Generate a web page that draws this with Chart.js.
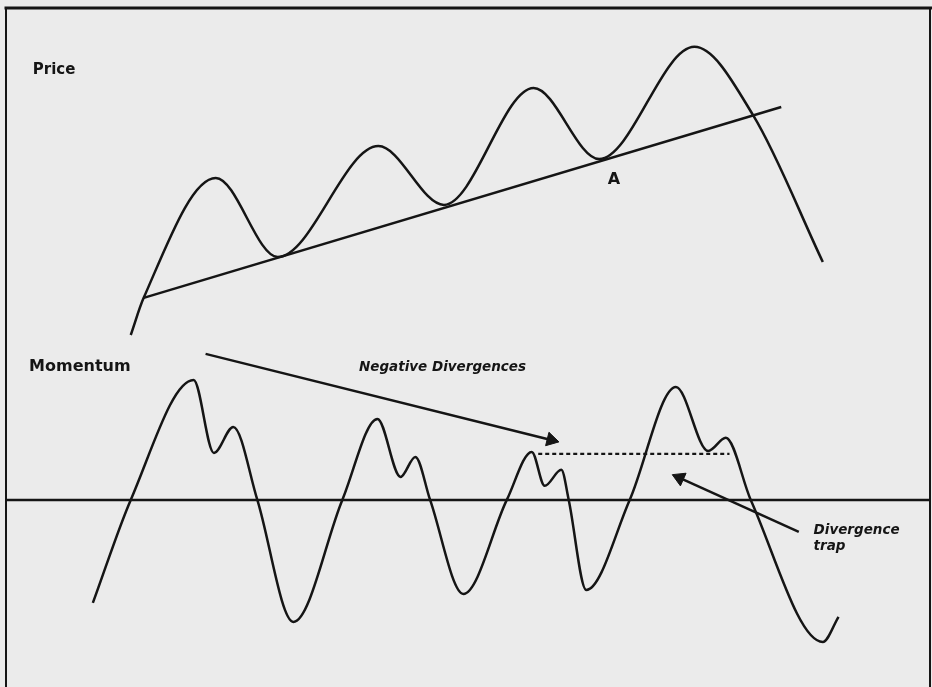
<!DOCTYPE html>
<html>
<head>
<meta charset="utf-8">
<script src="https://cdn.jsdelivr.net/npm/chart.js@4/dist/chart.umd.min.js"></script>
<style>
  html, body { margin: 0; padding: 0; background: #ebebeb; }
  #wrap { width: 932px; height: 687px; position: relative; }
</style>
</head>
<body>
<div id="wrap"><canvas id="c" width="932" height="687"></canvas></div>
<script>
// ---- Data (time index 0..100, price units 0..100, momentum units around zero) ----
const priceX = [13.5, 14.9, 22.7, 29.4, 40.3, 47.4, 57.1, 64.2, 74.5, 80.9, 88.4];
const priceY = [1.5, 12.7, 48.8, 25.0, 58.4, 40.7, 75.9, 54.5, 88.3, 67.5, 23.5];

const trendX = [14.9, 83.9];
const trendY = [12.7, 70.2];

const momX = [9.4, 13.5, 20.3, 22.5, 24.6, 27.2, 31.1, 36.4, 40.2, 42.7, 44.3, 45.9, 49.5,
              54.2, 56.9, 58.3, 60.1, 60.9, 62.8, 67.5, 72.5, 76.0, 77.9, 80.6, 88.4, 90.1];
const momY = [-64.4, 0, 75.0, 29.4, 45.6, 0, -76.3, 0, 50.6, 14.4, 26.9, 0, -58.8,
              0, 30.0, 8.8, 18.8, 0, -56.3, 0, 70.6, 30.6, 38.8, 0, -88.8, -73.1];

const zeroX = [0, 100];
const zeroY = [0, 0];

const divLineX = [21.6, 59.0];
const divLineY = [91.3, 37.5];

const dashX = [57.6, 78.3];
const dashY = [28.75, 28.75];

const trapX = [85.8, 72.9];
const trapY = [-20, 13.75];

const labelText = ['Price', 'Momentum', 'Negative Divergences', 'A', 'Divergence', 'trap'];
const labelX = [2.9, 2.5, 38.2, 65.8, 87.4, 87.4];
const labelY = [81.3, 83.1, 83.1, 48.2, -19.0, -29.4];
const labelAxis = ['yPrice', 'yMom', 'yMom', 'yPrice', 'yMom', 'yMom'];

// ---- helpers ----
const pts = (xs, ys) => xs.map((x, i) => ({ x: x, y: ys[i] }));
const INK = '#151515';
const labelFont = [
  'bold 15px "DejaVu Sans"',
  'bold 16px "DejaVu Sans"',
  'italic bold 13.5px "DejaVu Sans"',
  'bold 16px "DejaVu Sans"',
  'italic bold 13.5px "DejaVu Sans"',
  'italic bold 13.5px "DejaVu Sans"'
];
const labelAlign = ['left', 'left', 'left', 'center', 'left', 'left'];

const bgPlugin = {
  id: 'bg',
  beforeDraw(chart) {
    const ctx = chart.ctx;
    ctx.save();
    ctx.fillStyle = '#ebebeb';
    ctx.fillRect(0, 0, chart.width, chart.height);
    ctx.restore();
  }
};

const framePlugin = {
  id: 'frame',
  afterDatasetsDraw(chart) {
    const { ctx, chartArea: a } = chart;
    ctx.save();
    ctx.strokeStyle = INK;
    ctx.lineCap = 'square';
    ctx.lineWidth = 3;
    ctx.beginPath();
    ctx.moveTo(a.left, a.top);
    ctx.lineTo(chart.width, a.top);
    ctx.stroke();
    ctx.lineWidth = 2;
    ctx.beginPath();
    ctx.moveTo(a.left, a.top);
    ctx.lineTo(a.left, chart.height);
    ctx.moveTo(a.right, a.top);
    ctx.lineTo(a.right, chart.height);
    ctx.stroke();
    ctx.restore();
  }
};

const labelPlugin = {
  id: 'labels',
  afterDatasetsDraw(chart) {
    const ctx = chart.ctx;
    const xs = chart.scales.x;
    ctx.save();
    ctx.fillStyle = INK;
    ctx.textBaseline = 'middle';
    labelText.forEach((t, i) => {
      const ys = chart.scales[labelAxis[i]];
      ctx.font = labelFont[i];
      ctx.textAlign = labelAlign[i];
      ctx.fillText(t, xs.getPixelForValue(labelX[i]), ys.getPixelForValue(labelY[i]));
    });
    ctx.restore();
  }
};

const hiddenY = (min, max, weight) => ({
  type: 'linear', position: 'left', stack: 'panels', stackWeight: weight,
  min: min, max: max,
  ticks: { display: false }, grid: { display: false }, border: { display: false },
  afterFit(s) { s.width = 0; }
});

const lineDs = (data, axis, extra) => Object.assign({
  data: data, yAxisID: axis, borderColor: INK, backgroundColor: INK,
  borderWidth: 2.5, pointRadius: 0, pointHoverRadius: 0, fill: false, tension: 0, clip: false
}, extra || {});

new Chart(document.getElementById('c'), {
  type: 'line',
  data: {
    datasets: [
      lineDs(pts(trendX, trendY), 'yPrice'),
      lineDs(pts(priceX, priceY), 'yPrice', { cubicInterpolationMode: 'monotone' }),
      lineDs(pts(zeroX, zeroY), 'yMom', { borderWidth: 2.5 }),
      lineDs(pts(momX, momY), 'yMom', { cubicInterpolationMode: 'monotone' }),
      lineDs(pts(divLineX, divLineY), 'yMom', {
        pointRadius: [0, 8], pointStyle: 'triangle', pointRotation: [0, 104],
        pointBackgroundColor: INK, pointBorderColor: INK, pointBorderWidth: 1
      }),
      lineDs(pts(dashX, dashY), 'yMom', { borderDash: [4, 3], borderWidth: 2.2 }),
      lineDs(pts(trapX, trapY), 'yMom', {
        pointRadius: [0, 8], pointStyle: 'triangle', pointRotation: [0, -66],
        pointBackgroundColor: INK, pointBorderColor: INK, pointBorderWidth: 1
      })
    ]
  },
  options: {
    responsive: false,
    animation: false,
    devicePixelRatio: 1,
    layout: { autoPadding: false, padding: { left: 6, right: 2, top: 8, bottom: 0 } },
    plugins: { legend: { display: false }, tooltip: { enabled: false }, title: { display: false } },
    events: [],
    scales: {
      x: { type: 'linear', min: 0, max: 100, display: false },
      yMom: hiddenY(-117, 100, 347),
      yPrice: hiddenY(0, 100, 332)
    }
  },
  plugins: [bgPlugin, framePlugin, labelPlugin]
});
</script>
</body>
</html>
